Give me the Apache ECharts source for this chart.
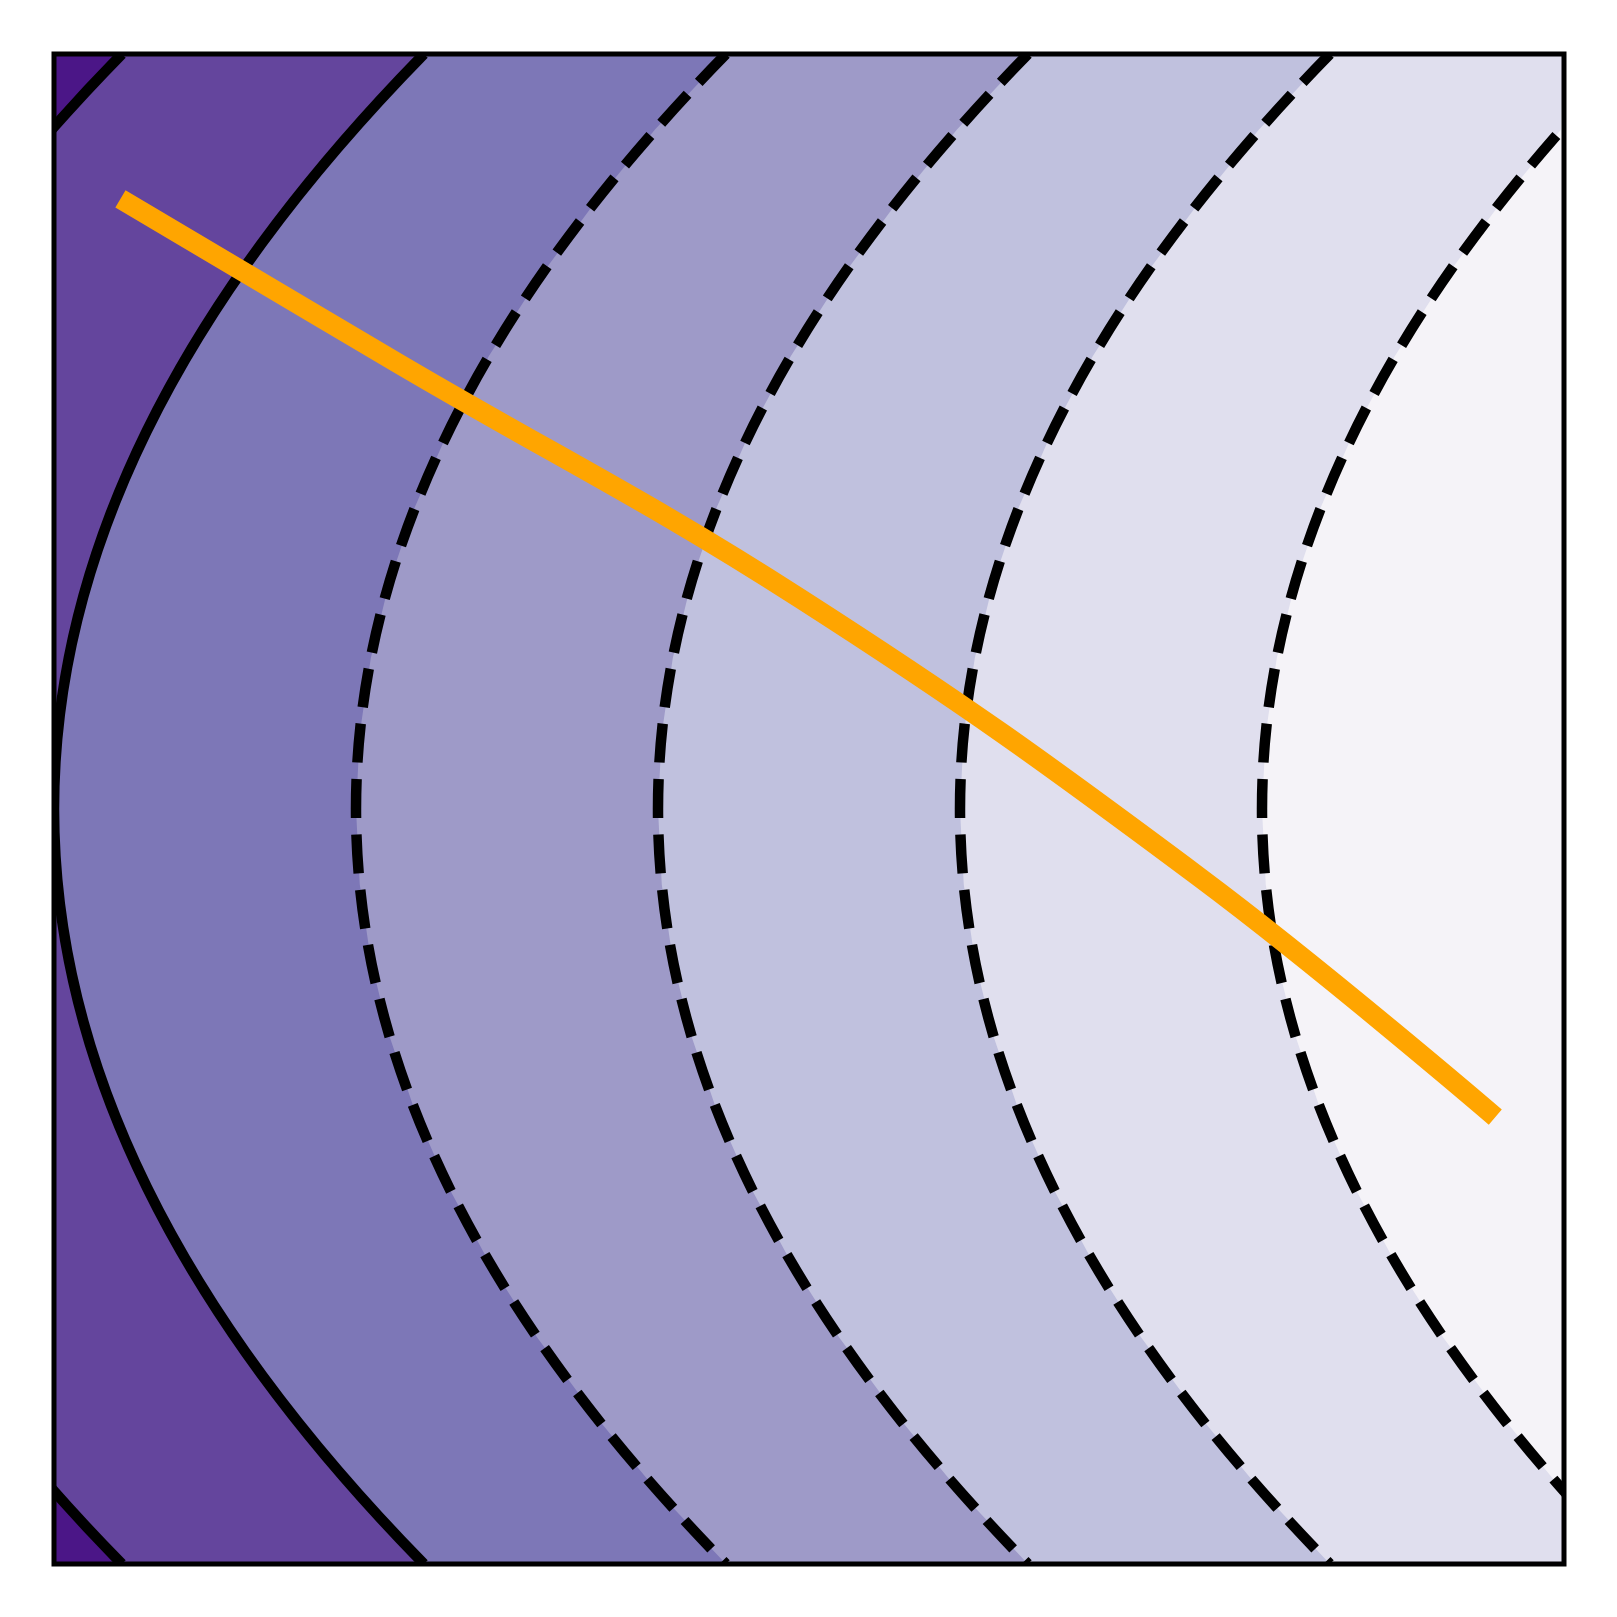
<!DOCTYPE html>
<html>
<head>
<meta charset="utf-8">
<script src="https://cdn.jsdelivr.net/npm/echarts@6/dist/echarts.min.js"></script>
<style>
  html, body { margin: 0; padding: 0; background: #ffffff; }
  #chart { width: 1617px; height: 1617px; }
</style>
</head>
<body>
<div id="chart"></div>
<script>
// ---- data ----
// contour levels: x position of each contour line at mid-height (y = 0)
const levels = [-0.2, 0, 0.2, 0.4, 0.6, 0.8];
// which contour lines are dashed
const levelDashed = [false, false, true, true, true, true];
// colour of the band lying left of each contour line
const fillColors = ['#4b1687', '#64459d', '#7d77b7', '#9e9ac8', '#c0c1de', '#e0dfee'];
// colour of the band right of the last contour
const topColor = '#f5f3f8';
// shape of the contour lines: horizontal offset from the mid-height position at each height
const profileY = [-1, -0.9, -0.8, -0.7, -0.6, -0.5, -0.4, -0.3, -0.2, -0.1, 0,
                  0.1, 0.2, 0.3, 0.4, 0.5, 0.6, 0.7, 0.8, 0.9, 1];
const profileOffset = [0.245, 0.198, 0.157, 0.120, 0.088, 0.061, 0.039, 0.022, 0.0098, 0.0025, 0,
                       0.0025, 0.0098, 0.022, 0.039, 0.061, 0.088, 0.120, 0.157, 0.198, 0.245];
// the orange path
const pathX = [0.044, 0.229, 0.494, 0.759, 0.9545];
const pathY = [0.808, 0.589, 0.279, -0.091, -0.408];

// ---- axis ranges ----
const xMin = 0, xMax = 1, yMin = -1, yMax = 1;

const chart = echarts.init(document.getElementById('chart'), null, { renderer: 'canvas' });

function clampX(v) { return Math.max(xMin, Math.min(xMax, v)); }

const fillSeries = {
  type: 'custom',
  coordinateSystem: 'cartesian2d',
  z: 1,
  silent: true,
  clip: true,
  data: levels.map((l, i) => [levels[levels.length - 1 - i]]),
  renderItem: function (params, api) {
    const li = levels.length - 1 - params.dataIndex;
    const lvl = levels[li];
    const pts = [];
    for (let i = 0; i < profileY.length; i++) {
      pts.push(api.coord([clampX(lvl + profileOffset[i]), profileY[i]]));
    }
    pts.push(api.coord([xMin, yMax]));
    pts.push(api.coord([xMin, yMin]));
    return {
      type: 'polygon',
      shape: { points: pts },
      style: { fill: fillColors[li], stroke: null, lineWidth: 0 }
    };
  }
};

// each contour line: the profile is a parabola, drawn as one quadratic curve
// from its top end, bending through its mid-height point, to its bottom end
const contourSeries = {
  type: 'custom',
  coordinateSystem: 'cartesian2d',
  z: 2,
  silent: true,
  clip: true,
  data: levels.map(l => [l]),
  renderItem: function (params, api) {
    const li = params.dataIndex;
    const lvl = levels[li];
    const last = profileY.length - 1;
    const bend = profileOffset[last];
    const pTop = api.coord([lvl + profileOffset[last], profileY[last]]);
    const pBot = api.coord([lvl + profileOffset[0], profileY[0]]);
    const pCtl = api.coord([lvl - bend, (profileY[0] + profileY[last]) / 2]);
    return {
      type: 'bezierCurve',
      shape: { x1: pTop[0], y1: pTop[1], x2: pBot[0], y2: pBot[1], cpx1: pCtl[0], cpy1: pCtl[1] },
      style: {
        fill: null,
        stroke: '#000000',
        lineWidth: 10.5,
        lineDash: levelDashed[li] ? [39, 16.5] : null,
        lineCap: 'butt',
        lineJoin: 'round'
      }
    };
  }
};

const pathSeries = {
  type: 'line',
  z: 3,
  silent: true,
  symbol: 'none',
  smooth: 0.4,
  data: pathX.map((x, i) => [x, pathY[i]]),
  lineStyle: { color: '#ffa500', width: 20, cap: 'butt', join: 'round' }
};

const frameSeries = {
  type: 'custom',
  coordinateSystem: 'cartesian2d',
  z: 10,
  silent: true,
  data: [[0.5, 0]],
  renderItem: function (params, api) {
    const p0 = api.coord([xMin, yMax]);
    const p1 = api.coord([xMax, yMin]);
    return {
      type: 'rect',
      shape: { x: p0[0], y: p0[1], width: p1[0] - p0[0], height: p1[1] - p0[1] },
      style: { fill: 'none', stroke: '#000000', lineWidth: 5 }
    };
  }
};

chart.setOption({
  animation: false,
  backgroundColor: '#ffffff',
  grid: {
    left: 54, top: 54, width: 1510, height: 1510,
    show: true, backgroundColor: topColor, borderWidth: 0
  },
  xAxis: {
    type: 'value', min: xMin, max: xMax,
    show: false
  },
  yAxis: {
    type: 'value', min: yMin, max: yMax,
    show: false
  },
  series: [fillSeries, contourSeries, pathSeries, frameSeries]
});
</script>
</body>
</html>
